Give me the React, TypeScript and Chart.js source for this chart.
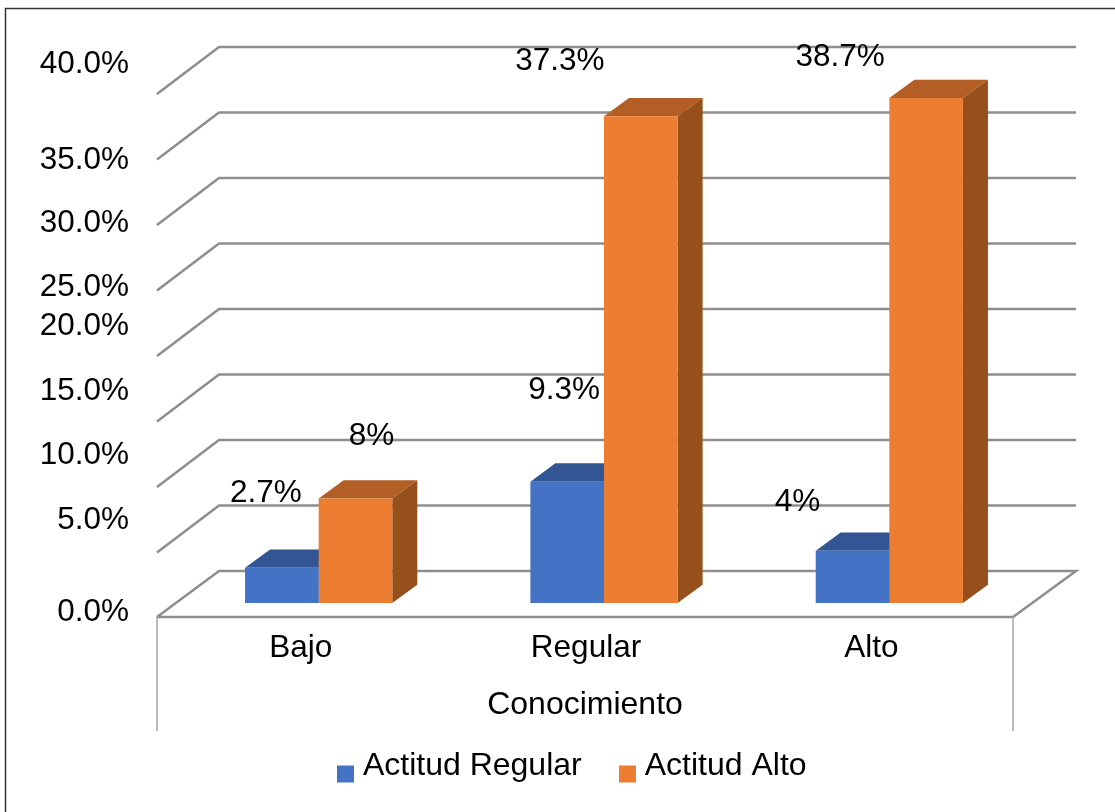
import React, { useEffect, useRef } from "react";
import { Chart, registerables } from "chart.js";

Chart.register(...registerables);

// Chart values
const categories = ["Bajo", "Regular", "Alto"];
const actitudRegular = [2.7, 9.3, 4];
const actitudAlto = [8, 37.3, 38.7];
const seriesNames = ["Actitud Regular", "Actitud Alto"];
const regularLabels = ["2.7%", "9.3%", "4%"];
const altoLabels = ["8%", "37.3%", "38.7%"];
const axisTitle = "Conocimiento";

// Colours and type
const FONT = "'Liberation Sans', Arial, sans-serif";
const NUMBER_SIZE = 31.5;
const TEXT_SIZE = 32;
const GRID = "#8e8e8e";
const faces = [
  { front: "#4472C4", top: "#335593", side: "#2a4a80" },
  { front: "#ED7D31", top: "#B25E25", side: "#95501C" },
];

// Perspective of the box: back wall and floor relative to the bar plane
const WALL_DX = 43;
const WALL_DY = -32;
const WALL_STRETCH = 524 / 522;
const FRONT_DX = -19;
const FRONT_DY = 15;
const FLOOR_DY = 14;
const BAR_DX = 25;
const BAR_DY = -18.3;

// Nudges of the value-axis captions, listed from 0% upward
const tickNudge = [9, -17.25, -17.5, -15.75, -16, 10.75, 11.5, 14, -17];
// Nudges of the value captions from the top centre of each bar
const labelNudge = [
  [[-16, -74], [-3, -91.5], [-55, -48.2]],
  [[16, -62.4], [-81, -55], [-86, -41]],
];

const boxPlugin = {
  id: "box3d",
  afterLayout(chart: any) {
    const legend = chart.legend;
    const shift = 706 - legend.top;
    legend.top += shift;
    legend.bottom += shift;
    legend.left = 117.5;
    legend.right = 1033;
  },
  beforeDraw(chart: any) {
    const { ctx } = chart;
    ctx.save();
    ctx.strokeStyle = "#333333";
    ctx.lineWidth = 1.5;
    ctx.beginPath();
    ctx.moveTo(5.5, 812);
    ctx.lineTo(5.5, 8.5);
    ctx.lineTo(1115, 8.5);
    ctx.stroke();
    ctx.restore();
  },
  beforeDatasetsDraw(chart: any) {
    const { ctx, chartArea, scales } = chart;
    const y = scales.y;
    const { left, right } = chartArea;
    const zero = y.getPixelForValue(0);
    ctx.save();
    ctx.lineCap = "butt";
    ctx.lineJoin = "miter";
    ctx.strokeStyle = GRID;
    ctx.lineWidth = 2.5;

    // Wall gridlines with their slanted returns on the side wall
    y.ticks.forEach((t: any) => {
      const py = zero + (y.getPixelForValue(t.value) - zero) * WALL_STRETCH;
      const backY = py + WALL_DY;
      const frontY = t.value === 0 ? py + FLOOR_DY : py + FRONT_DY;
      ctx.beginPath();
      ctx.moveTo(left + FRONT_DX, frontY);
      ctx.lineTo(left + WALL_DX, backY);
      ctx.lineTo(right + WALL_DX + 1, backY);
      if (t.value === 0) {
        ctx.lineTo(right + FRONT_DX, frontY);
        ctx.lineTo(left + FRONT_DX, frontY);
      }
      ctx.stroke();
    });

    // Vertical drop lines below the floor
    const floorY = zero + FLOOR_DY;
    ctx.strokeStyle = "#a6a6a6";
    ctx.lineWidth = 1.5;
    [left + FRONT_DX, right + FRONT_DX].forEach((px) => {
      ctx.beginPath();
      ctx.moveTo(px, floorY);
      ctx.lineTo(px, 731);
      ctx.stroke();
    });

    // Top and side faces of the columns; the front faces are the bars themselves
    [0, 1].forEach((d) => {
      chart.getDatasetMeta(d).data.forEach((bar: any) => {
        const l = bar.x - bar.width / 2;
        const r = bar.x + bar.width / 2;
        ctx.fillStyle = faces[d].top;
        ctx.beginPath();
        ctx.moveTo(l, bar.y);
        ctx.lineTo(l + BAR_DX, bar.y + BAR_DY);
        ctx.lineTo(r + BAR_DX, bar.y + BAR_DY);
        ctx.lineTo(r, bar.y);
        ctx.closePath();
        ctx.fill();
        ctx.fillStyle = faces[d].side;
        ctx.beginPath();
        ctx.moveTo(r, bar.y);
        ctx.lineTo(r + BAR_DX, bar.y + BAR_DY);
        ctx.lineTo(r + BAR_DX, bar.base + BAR_DY);
        ctx.lineTo(r, bar.base);
        ctx.closePath();
        ctx.fill();
      });
    });
    ctx.restore();
  },
  afterDatasetsDraw(chart: any) {
    const { ctx, chartArea, scales } = chart;
    const y = scales.y;
    ctx.save();
    ctx.fillStyle = "#000000";
    ctx.font = `${NUMBER_SIZE}px ${FONT}`;
    ctx.textBaseline = "middle";

    // Value-axis captions
    ctx.textAlign = "right";
    y.ticks.forEach((t: any, i: number) => {
      ctx.fillText(t.label, 129, y.getPixelForValue(t.value) + tickNudge[i]);
    });

    // Value captions
    ctx.textAlign = "center";
    [regularLabels, altoLabels].forEach((texts, d) => {
      chart.getDatasetMeta(d).data.forEach((bar: any, i: number) => {
        const [nx, ny] = labelNudge[d][i];
        ctx.fillText(texts[i], bar.x + nx, bar.y + ny);
      });
    });

    // Category-axis title, centred on the front edge of the floor
    ctx.font = `${TEXT_SIZE}px ${FONT}`;
    ctx.fillText(axisTitle, (chartArea.left + chartArea.right) / 2 + FRONT_DX, 705);
    ctx.restore();
  },
};

// Legend marker that sits below the middle of its text line
function legendMarker(color: string) {
  const c = document.createElement("canvas");
  c.width = 17;
  c.height = 37;
  const g = c.getContext("2d")!;
  g.fillStyle = color;
  g.fillRect(0, 18, 17, 17);
  return c;
}

export default function App() {
  const ref = useRef<HTMLCanvasElement>(null);

  useEffect(() => {
    const chart = new Chart(ref.current!, {
      type: "bar",
      data: {
        labels: categories,
        datasets: [
          {
            label: seriesNames[0],
            data: actitudRegular,
            backgroundColor: faces[0].front,
            categoryPercentage: 0.516,
            barPercentage: 1,
          },
          {
            label: seriesNames[1],
            data: actitudAlto,
            backgroundColor: faces[1].front,
            categoryPercentage: 0.516,
            barPercentage: 1,
          },
        ],
      },
      options: {
        responsive: false,
        animation: false,
        layout: { padding: { left: 176, right: 83, top: 81, bottom: 0 } },
        scales: {
          x: {
            grid: { display: false },
            border: { display: false },
            ticks: {
              color: "#000000",
              font: { family: FONT, size: NUMBER_SIZE },
              labelOffset: -18,
              padding: 18,
              maxRotation: 0,
              autoSkip: false,
            },
            afterFit(scale: any) {
              scale.height = 209 - (scale.chart.legend?.height ?? 0);
            },
          },
          y: {
            display: false,
            min: 0,
            max: 40,
            ticks: {
              stepSize: 5,
              autoSkip: false,
              callback: (v: any) => `${Number(v).toFixed(1)}%`,
            },
          },
        },
        plugins: {
          tooltip: { enabled: false },
          legend: {
            position: "bottom",
            labels: {
              color: "#000000",
              font: { family: FONT, size: TEXT_SIZE },
              usePointStyle: true,
              boxWidth: 3,
              pointStyleWidth: 3,
              padding: 44,
              generateLabels: () =>
                seriesNames.map((text, i) => ({
                  text,
                  fillStyle: faces[i].front,
                  strokeStyle: faces[i].front,
                  lineWidth: 0,
                  hidden: false,
                  datasetIndex: i,
                  fontColor: "#000000",
                  pointStyle: legendMarker(faces[i].front),
                })),
            },
          },
        },
      },
      plugins: [boxPlugin],
    } as any);
    return () => chart.destroy();
  }, []);

  return (
    <canvas
      ref={ref}
      width={1115}
      height={812}
      style={{ position: "absolute", left: 0, top: 0, display: "block" }}
    />
  );
}
